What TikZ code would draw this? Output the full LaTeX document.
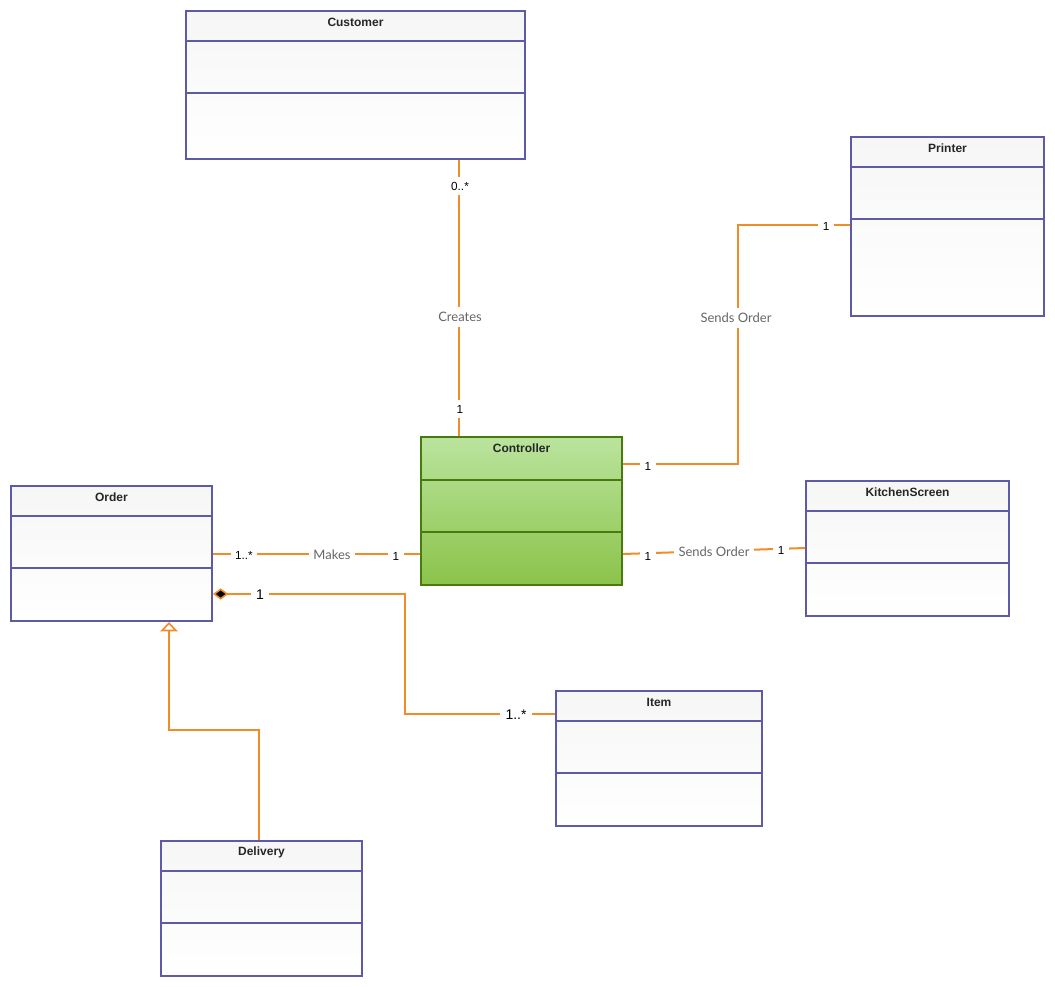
\documentclass[tikz,border=0pt]{standalone}
\usepackage{fontspec}
\setmainfont{Liberation Sans}
\newfontfamily\lato{Lato}
\usetikzlibrary{calc,fit,arrows.meta}
\definecolor{umlblue}{HTML}{5F5AA8}
\definecolor{conncol}{HTML}{F28C28}
\definecolor{ctrlborder}{HTML}{4A7A0C}
\definecolor{ctrltop}{HTML}{BAE49E}
\definecolor{ctrlbot}{HTML}{8BC34A}
\definecolor{labgray}{HTML}{666666}
\definecolor{boxtop}{HTML}{F6F6F6}
\begin{document}
\begin{tikzpicture}[x=0.75pt,y=-0.75pt,
 classbox/.style={draw=umlblue, line width=1.5pt, inner sep=0pt, top color=boxtop, bottom color=white},
 ctrlbox/.style={draw=ctrlborder, line width=1.5pt, inner sep=0pt, top color=ctrltop, bottom color=ctrlbot},
 divider/.style={draw=umlblue, line width=1.5pt},
 ctrldiv/.style={draw=ctrlborder, line width=1.5pt},
 ctitle/.style={font=\bfseries\fontsize{9}{11}\selectfont, text=black!85, inner sep=0pt},
 conn/.style={draw=conncol, line width=1.5pt},
 lab/.style={font=\lato\fontsize{9.75}{12}\selectfont, text=labgray, fill=white, inner xsep=3.5pt, inner ysep=4pt},
 num/.style={font=\fontsize{8.8}{10}\selectfont, text=black, fill=white, inner sep=3.5pt},
 bignum/.style={font=\fontsize{10.5}{12}\selectfont, text=black, fill=white, inner sep=4pt},
]
\useasboundingbox (0,0) rectangle (1055,986);

% ---------- classes ----------
\node[classbox, fit={(186,11) (525,159)}] (cust) {};
\draw[divider] ($(cust.north west)+(0,31)$) -- ($(cust.north east)+(0,31)$);
\draw[divider] ($(cust.north west)+(0,83)$) -- ($(cust.north east)+(0,83)$);
\node[ctitle] (custT) at ($(cust.north)+(0,12.5)$) {Customer};

\node[classbox, fit={(851,137) (1044,316)}] (prn) {};
\draw[divider] ($(prn.north west)+(0,31)$) -- ($(prn.north east)+(0,31)$);
\draw[divider] ($(prn.north west)+(0,83)$) -- ($(prn.north east)+(0,83)$);
\node[ctitle] (prnT) at ($(prn.north)+(0,12.5)$) {Printer};

\node[ctrlbox, fit={(421,437) (622,585)}] (ctrl) {};
\draw[ctrldiv] ($(ctrl.north west)+(0,44)$) -- ($(ctrl.north east)+(0,44)$);
\draw[ctrldiv] ($(ctrl.north west)+(0,96)$) -- ($(ctrl.north east)+(0,96)$);
\node[ctitle] (ctrlT) at ($(ctrl.north)+(0,12.5)$) {Controller};

\node[classbox, fit={(11,486) (212,621)}] (ord) {};
\draw[divider] ($(ord.north west)+(0,31)$) -- ($(ord.north east)+(0,31)$);
\draw[divider] ($(ord.north west)+(0,83)$) -- ($(ord.north east)+(0,83)$);
\node[ctitle] (ordT) at ($(ord.north)+(0,12.5)$) {Order};

\node[classbox, fit={(806,481) (1009,616)}] (kit) {};
\draw[divider] ($(kit.north west)+(0,31)$) -- ($(kit.north east)+(0,31)$);
\draw[divider] ($(kit.north west)+(0,83)$) -- ($(kit.north east)+(0,83)$);
\node[ctitle] (kitT) at ($(kit.north)+(0,12.5)$) {KitchenScreen};

\node[classbox, fit={(556,691) (762,826)}] (item) {};
\draw[divider] ($(item.north west)+(0,31)$) -- ($(item.north east)+(0,31)$);
\draw[divider] ($(item.north west)+(0,83)$) -- ($(item.north east)+(0,83)$);
\node[ctitle] (itemT) at ($(item.north)+(0,12.5)$) {Item};

\node[classbox, fit={(161,841) (362,976)}] (del) {};
\draw[divider] ($(del.north west)+(0,31)$) -- ($(del.north east)+(0,31)$);
\draw[divider] ($(del.north west)+(0,83)$) -- ($(del.north east)+(0,83)$);
\node[ctitle] (delT) at ($(del.north)+(0,12.5)$) {Delivery};

% ---------- connectors ----------
% Customer -- Controller
\draw[conn] ($(cust.south west)+(274,0)$) -- ($(ctrl.north west)+(39,0)$);
% Controller -- Printer
\draw[conn] ($(ctrl.north east)+(0,28)$) -- ++(115,0) |- ($(prn.north west)+(0,89)$);
% Order -- Controller
\draw[conn] ($(ord.north east)+(0,69)$) -- ($(ctrl.north west)+(0,118)$);
% Controller -- KitchenScreen
\draw[conn] ($(ctrl.north east)+(0,118)$) -- ($(kit.north west)+(0,68)$);
% Order <>-- Item (composition)
\draw[conn, {Diamond[fill=black, length=11.5pt, width=8.5pt, line width=1.2pt]}-]
  ($(ord.north east)+(0,109)$) -- ++(192,0) |- ($(item.north west)+(0,24)$);
% Delivery --|> Order (generalization)
\draw[conn, -{Triangle[open, fill=white, length=7pt, width=13pt, line width=1.2pt]}]
  ($(del.north west)+(99,0)$) -- ++(0,-110) -| ($(ord.south west)+(159,0)$);

% ---------- labels ----------
\node[num] (l1) at (460,186) {0..*};
\node[lab] (l2) at (460,317) {Creates};
\node[num] (l3) at (460,409) {1};

\node[num] (l4) at (648,466) {1};
\node[lab] (l5) at (736,318) {Sends Order};
\node[num] (l6) at (826,226) {1};

\node[num] (l7) at (244,555) {1..*};
\node[lab] (l8) at (332,555) {Makes};
\node[num] (l9) at (396,556) {1};

\node[num] (l10) at (648,556) {1};
\node[lab] (l11) at (714,552) {Sends Order};
\node[num] (l12) at (781,550) {1};

\node[bignum] (l13) at (260,595) {1};
\node[bignum] (l14) at (516,715) {1..*};
\end{tikzpicture}
\end{document}
